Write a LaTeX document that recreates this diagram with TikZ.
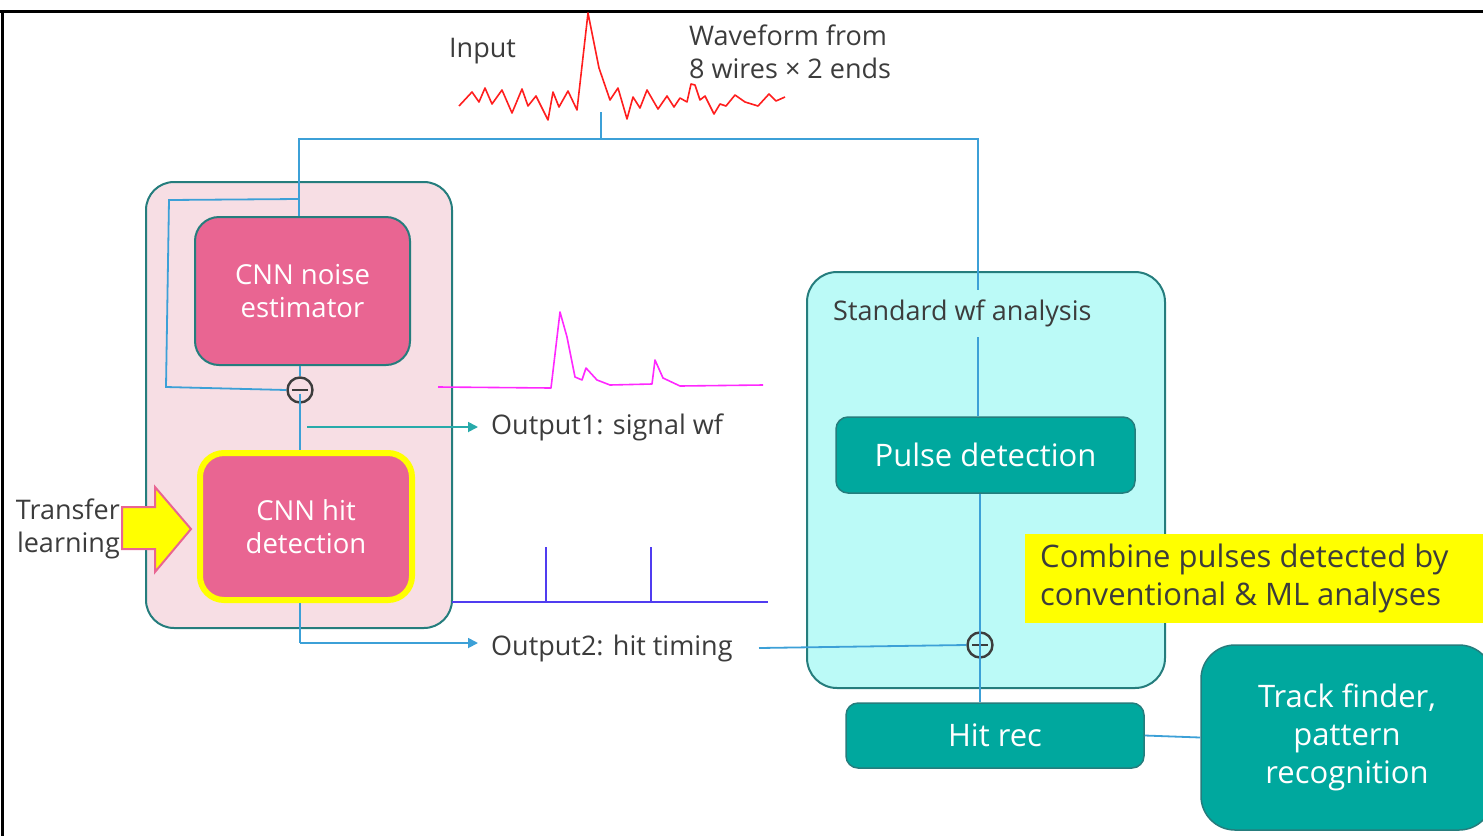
\documentclass[tikz,border=0pt]{standalone}
\usepackage{fontspec}
\setmainfont{Open Sans}
\usetikzlibrary{arrows.meta}

\definecolor{cnnpink}{RGB}{233,101,146}
\definecolor{pinkbg}{RGB}{247,222,228}
\definecolor{tealline}{RGB}{37,125,125}
\definecolor{tealfill}{RGB}{0,168,158}
\definecolor{cyanbg}{RGB}{187,250,247}
\definecolor{wire}{RGB}{60,160,215}
\definecolor{outteal}{RGB}{40,170,170}
\definecolor{sigmag}{RGB}{255,40,255}
\definecolor{hitviolet}{RGB}{80,60,240}
\definecolor{noisered}{RGB}{255,30,30}
\definecolor{txtgray}{RGB}{60,60,60}
\definecolor{noteyellow}{RGB}{255,255,0}

\begin{document}
\begin{tikzpicture}[x=1pt,y=-1pt,
  txt/.style={text=txtgray,inner sep=0pt,font=\fontsize{27}{33}\selectfont},
  panel/.style={draw=tealline,line width=2pt,rounded corners=28pt,inner sep=0pt},
  cnnbox/.style={draw=tealline,line width=2pt,fill=cnnpink,rounded corners=24pt,
    text=white,align=center,inner sep=0pt,font=\fontsize{27.5}{33}\selectfont},
  procbox/.style={draw=tealline,line width=1.5pt,fill=tealfill,rounded corners=12pt,
    text=white,align=center,inner sep=0pt,font=\fontsize{31}{38}\selectfont},
  wirestyle/.style={draw=wire,line width=1.8pt},
  opcircle/.style={circle,draw=txtgray,line width=2.4pt,minimum size=25pt,inner sep=0pt},
]
\useasboundingbox (0,0) rectangle (1483,836);

% frame edges
\draw[line width=3pt,black] (0,11) -- (1483,11);
\draw[line width=3pt,black] (2,11) -- (2,836);

% input waveform
\draw[noisered,line width=1.6pt,line join=round]
  (459,106) -- (472,92) -- (479,102) -- (485,88) -- (492,104) -- (502,90) -- (512,113)
  -- (522,89) -- (528,106) -- (536,96) -- (548,120) -- (553,92) -- (559,107) -- (568,91)
  -- (577,110) -- (588,13) -- (599,68) -- (610,100) -- (618,88) -- (627,119) -- (633,97)
  -- (640,108) -- (647,90) -- (658,109) -- (667,96) -- (674,107) -- (680,98) -- (687,102)
  -- (691,84) -- (695,85) -- (700,100) -- (705,96) -- (714,114) -- (720,104) -- (726,106)
  -- (735,95) -- (745,102) -- (758,106) -- (769,94) -- (776,101) -- (785,97);
\node[txt,anchor=west] (inlbl) at (449,51) {Input};
\node[txt,anchor=west,align=left] (wflbl) at (689,52) {Waveform from\\8 wires × 2 ends};

% left panel (ML)
\node[panel,fill=pinkbg,minimum width=306pt,minimum height=446pt] (mlpanel) at (299,405) {};
\node[cnnbox,minimum width=215pt,minimum height=148pt] (noise) at (302.5,291) {CNN noise\\estimator};
\node[cnnbox,draw=noteyellow,line width=6pt,minimum width=212pt,minimum height=147pt] (hit) at (306,526.5) {CNN hit\\detection};
\node[opcircle] (minus) at (300,390) {};
\draw[txtgray,line width=2.4pt] ([xshift=-8pt]minus.center) -- ([xshift=8pt]minus.center);

% transfer learning arrow
\draw[fill=noteyellow,draw=cnnpink,line width=2pt,line join=miter]
  (122,507) -- (155,507) -- (155,487) -- (191,529) -- (155,572) -- (155,549) -- (122,549) -- cycle;
\node[txt,anchor=east,align=right] (tl) at (120,529) {Transfer\\learning};

% right panel (standard analysis)
\node[panel,fill=cyanbg,rounded corners=30pt,minimum width=358pt,minimum height=416pt] (stdpanel) at (986,480) {};
\node[txt,anchor=west] (stdlbl) at (833,313) {Standard wf analysis};
\node[procbox,minimum width=299pt,minimum height=76pt] (pulse) at (985.5,455) {Pulse detection};
\node[opcircle] (plus) at (980,645) {};
\draw[txtgray,line width=2.4pt] ([xshift=-8pt]plus.center) -- ([xshift=8pt]plus.center)
  ([yshift=-8pt]plus.center) -- ([yshift=8pt]plus.center);
\node[procbox,minimum width=298pt,minimum height=65pt] (hitrec) at (995,735.5) {Hit rec};
\node[procbox,rounded corners=34pt,minimum width=292pt,minimum height=185pt] (track) at (1347,737.5)
  {Track finder,\\pattern\\recognition};

% note
\fill[noteyellow] (1025,534) rectangle (1490,623);
\node[txt,anchor=west,align=left,font=\fontsize{31}{38}\selectfont] (note) at (1040,578) {Combine pulses detected by\\conventional \& ML analyses};

% output waveforms
\draw[sigmag,line width=1.6pt,line join=round]
  (438,387) -- (551,388) -- (560,312) -- (567,337) -- (575,377) -- (582,380) -- (586,368)
  -- (597,380) -- (610,385) -- (652,384) -- (655,360) -- (663,378) -- (680,386) -- (763,385);
\draw[hitviolet,line width=1.6pt] (452,602) -- (768,602)
  (546,547) -- (546,602) (651,547) -- (651,602);
\node[txt,anchor=west] (out1) at (491,427) {Output1: signal wf};
\node[txt,anchor=west] (out2) at (491,648) {Output2: hit timing};

% wiring
\coordinate (inpt) at (601,112);
\coordinate (split) at (601,139);
\coordinate (stdin) at (978,290);
\coordinate (stdresume) at (978,337);
\coordinate (tap) at (299,199);
\coordinate (out1start) at (307,427);
\coordinate (out2start) at (300,643);
\path[wirestyle] (inpt) -- (split);
\path[wirestyle] (split) -| (noise.north -| tap);
\path[wirestyle] (split) -| (stdin);
\path[wirestyle] (stdresume) -- (pulse.north -| stdresume);
\path[wirestyle] (tap) -- (169,200) -- (166,387) -- (minus.west);
\path[wirestyle] (noise.south -| minus) -- (minus.north);
\path[wirestyle] ([yshift=10pt]minus.south) -- (hit.north -| minus);
\draw[outteal,line width=1.8pt,-{Triangle[length=10pt,width=10pt]}] (out1start) -- ([xshift=-13pt]out1.west);
\path[wirestyle] (hit.south -| minus) -- (out2start);
\draw[wire,line width=1.8pt,-{Triangle[length=10pt,width=10pt]}] (out2start) -- ([xshift=-13pt]out2.west |- out2start);
\path[wirestyle] ([xshift=-4pt]out2.east -| 763,0) -- (plus.west);
\path[wirestyle] (pulse.south -| plus) -- ([yshift=-15pt]plus.north);
\path[wirestyle] ([yshift=15pt]plus.south) -- (hitrec.north -| plus);
\path[wirestyle] (hitrec.east) -- (track.west);
\end{tikzpicture}
\end{document}
